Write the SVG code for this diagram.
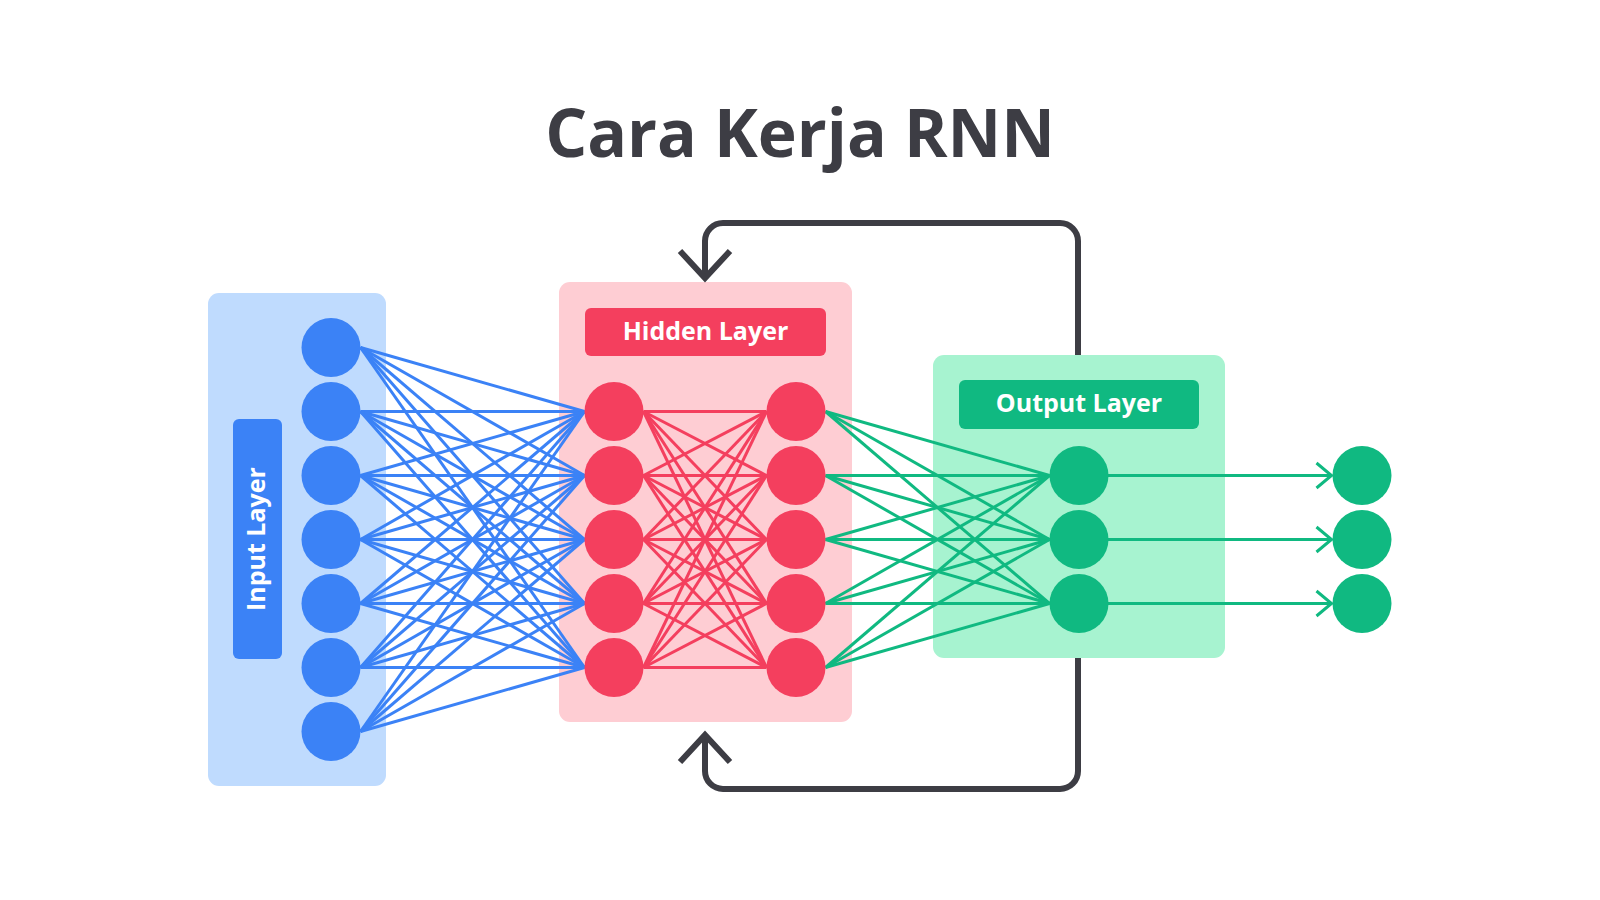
<svg xmlns="http://www.w3.org/2000/svg" width="1600" height="900" viewBox="0 0 1600 900">
<style>
.title{font-family:"Open Sans","Noto Sans","Liberation Sans",sans-serif;font-weight:700;font-size:66px;fill:#3d3d44}
.lbl{font-family:"Open Sans","Noto Sans","Liberation Sans",sans-serif;font-weight:700;font-size:25px;fill:#ffffff}
.b line{stroke:#3b82f6;stroke-width:3}
.r line{stroke:#f43f5e;stroke-width:3}
.g line{stroke:#10b981;stroke-width:3}
.loop{fill:none;stroke:#3d3d44;stroke-width:6;stroke-linejoin:miter}
.arr{fill:none;stroke:#10b981;stroke-width:3}
.nb{fill:#3b82f6}.nr{fill:#f43f5e}.ng{fill:#10b981}
</style>
<rect width="1600" height="900" fill="#ffffff"/>
<text class="title" x="800" y="157" text-anchor="middle">Cara Kerja RNN</text>

<g id="panels">
<rect id="input-panel" x="208" y="293" width="178" height="493" rx="11" fill="#bfdbfe"/>
<rect id="hidden-panel" x="559" y="282" width="293" height="440" rx="11" fill="#fecdd3"/>
<rect id="output-panel" x="933" y="355" width="292" height="303" rx="11" fill="#a7f3d0"/>
</g>

<g id="loop">
<path class="loop" d="M1078,355 V241 A18,18 0 0 0 1060,223 H723 A18,18 0 0 0 705,241 V278"/>
<path class="loop" d="M680,251 L705,278 L730,251"/>
<path class="loop" d="M1078,658 V771 A18,18 0 0 1 1060,789 H723 A18,18 0 0 1 705,771 V735"/>
<path class="loop" d="M680,762 L705,735 L730,762"/>
</g>

<g id="connectors">
<g class="b">
<line x1="360.5" y1="347.5" x2="584.5" y2="411.5"/><line x1="360.5" y1="347.5" x2="584.5" y2="475.5"/><line x1="360.5" y1="347.5" x2="584.5" y2="539.5"/><line x1="360.5" y1="347.5" x2="584.5" y2="603.5"/><line x1="360.5" y1="347.5" x2="584.5" y2="667.5"/>
<line x1="360.5" y1="411.5" x2="584.5" y2="411.5"/><line x1="360.5" y1="411.5" x2="584.5" y2="475.5"/><line x1="360.5" y1="411.5" x2="584.5" y2="539.5"/><line x1="360.5" y1="411.5" x2="584.5" y2="603.5"/><line x1="360.5" y1="411.5" x2="584.5" y2="667.5"/>
<line x1="360.5" y1="475.5" x2="584.5" y2="411.5"/><line x1="360.5" y1="475.5" x2="584.5" y2="475.5"/><line x1="360.5" y1="475.5" x2="584.5" y2="539.5"/><line x1="360.5" y1="475.5" x2="584.5" y2="603.5"/><line x1="360.5" y1="475.5" x2="584.5" y2="667.5"/>
<line x1="360.5" y1="539.5" x2="584.5" y2="411.5"/><line x1="360.5" y1="539.5" x2="584.5" y2="475.5"/><line x1="360.5" y1="539.5" x2="584.5" y2="539.5"/><line x1="360.5" y1="539.5" x2="584.5" y2="603.5"/><line x1="360.5" y1="539.5" x2="584.5" y2="667.5"/>
<line x1="360.5" y1="603.5" x2="584.5" y2="411.5"/><line x1="360.5" y1="603.5" x2="584.5" y2="475.5"/><line x1="360.5" y1="603.5" x2="584.5" y2="539.5"/><line x1="360.5" y1="603.5" x2="584.5" y2="603.5"/><line x1="360.5" y1="603.5" x2="584.5" y2="667.5"/>
<line x1="360.5" y1="667.5" x2="584.5" y2="411.5"/><line x1="360.5" y1="667.5" x2="584.5" y2="475.5"/><line x1="360.5" y1="667.5" x2="584.5" y2="539.5"/><line x1="360.5" y1="667.5" x2="584.5" y2="603.5"/><line x1="360.5" y1="667.5" x2="584.5" y2="667.5"/>
<line x1="360.5" y1="731.5" x2="584.5" y2="411.5"/><line x1="360.5" y1="731.5" x2="584.5" y2="475.5"/><line x1="360.5" y1="731.5" x2="584.5" y2="539.5"/><line x1="360.5" y1="731.5" x2="584.5" y2="603.5"/><line x1="360.5" y1="731.5" x2="584.5" y2="667.5"/>
</g>
<g class="r">
<line x1="643.5" y1="411.5" x2="766.5" y2="411.5"/><line x1="643.5" y1="411.5" x2="766.5" y2="475.5"/><line x1="643.5" y1="411.5" x2="766.5" y2="539.5"/><line x1="643.5" y1="411.5" x2="766.5" y2="603.5"/><line x1="643.5" y1="411.5" x2="766.5" y2="667.5"/>
<line x1="643.5" y1="475.5" x2="766.5" y2="411.5"/><line x1="643.5" y1="475.5" x2="766.5" y2="475.5"/><line x1="643.5" y1="475.5" x2="766.5" y2="539.5"/><line x1="643.5" y1="475.5" x2="766.5" y2="603.5"/><line x1="643.5" y1="475.5" x2="766.5" y2="667.5"/>
<line x1="643.5" y1="539.5" x2="766.5" y2="411.5"/><line x1="643.5" y1="539.5" x2="766.5" y2="475.5"/><line x1="643.5" y1="539.5" x2="766.5" y2="539.5"/><line x1="643.5" y1="539.5" x2="766.5" y2="603.5"/><line x1="643.5" y1="539.5" x2="766.5" y2="667.5"/>
<line x1="643.5" y1="603.5" x2="766.5" y2="411.5"/><line x1="643.5" y1="603.5" x2="766.5" y2="475.5"/><line x1="643.5" y1="603.5" x2="766.5" y2="539.5"/><line x1="643.5" y1="603.5" x2="766.5" y2="603.5"/><line x1="643.5" y1="603.5" x2="766.5" y2="667.5"/>
<line x1="643.5" y1="667.5" x2="766.5" y2="411.5"/><line x1="643.5" y1="667.5" x2="766.5" y2="475.5"/><line x1="643.5" y1="667.5" x2="766.5" y2="539.5"/><line x1="643.5" y1="667.5" x2="766.5" y2="603.5"/><line x1="643.5" y1="667.5" x2="766.5" y2="667.5"/>
</g>
<g class="g">
<line x1="825.5" y1="411.5" x2="1049.5" y2="475.5"/><line x1="825.5" y1="411.5" x2="1049.5" y2="539.5"/><line x1="825.5" y1="411.5" x2="1049.5" y2="603.5"/>
<line x1="825.5" y1="475.5" x2="1049.5" y2="475.5"/><line x1="825.5" y1="475.5" x2="1049.5" y2="539.5"/><line x1="825.5" y1="475.5" x2="1049.5" y2="603.5"/>
<line x1="825.5" y1="539.5" x2="1049.5" y2="475.5"/><line x1="825.5" y1="539.5" x2="1049.5" y2="539.5"/><line x1="825.5" y1="539.5" x2="1049.5" y2="603.5"/>
<line x1="825.5" y1="603.5" x2="1049.5" y2="475.5"/><line x1="825.5" y1="603.5" x2="1049.5" y2="539.5"/><line x1="825.5" y1="603.5" x2="1049.5" y2="603.5"/>
<line x1="825.5" y1="667.5" x2="1049.5" y2="475.5"/><line x1="825.5" y1="667.5" x2="1049.5" y2="539.5"/><line x1="825.5" y1="667.5" x2="1049.5" y2="603.5"/>
<line x1="1108" y1="475.5" x2="1331" y2="475.5"/><line x1="1108" y1="539.5" x2="1331" y2="539.5"/><line x1="1108" y1="603.5" x2="1331" y2="603.5"/>
</g>
<path class="arr" d="M1316.5,463 L1331.5,475.5 L1316.5,488 M1316.5,527 L1331.5,539.5 L1316.5,552 M1316.5,591 L1331.5,603.5 L1316.5,616"/>
</g>

<g id="input-layer">
<rect x="233" y="419" width="49" height="240" rx="6" fill="#3b82f6"/>
<text class="lbl" transform="translate(265,539) rotate(-90)" text-anchor="middle">Input Layer</text>
<circle class="nb" cx="331" cy="347.5" r="29.5"/>
<circle class="nb" cx="331" cy="411.5" r="29.5"/>
<circle class="nb" cx="331" cy="475.5" r="29.5"/>
<circle class="nb" cx="331" cy="539.5" r="29.5"/>
<circle class="nb" cx="331" cy="603.5" r="29.5"/>
<circle class="nb" cx="331" cy="667.5" r="29.5"/>
<circle class="nb" cx="331" cy="731.5" r="29.5"/>
</g>

<g id="hidden-layer">
<rect x="585" y="308" width="241" height="48" rx="6" fill="#f43f5e"/>
<text class="lbl" x="705.5" y="339.5" text-anchor="middle">Hidden Layer</text>
<circle class="nr" cx="614" cy="411.5" r="29.5"/>
<circle class="nr" cx="614" cy="475.5" r="29.5"/>
<circle class="nr" cx="614" cy="539.5" r="29.5"/>
<circle class="nr" cx="614" cy="603.5" r="29.5"/>
<circle class="nr" cx="614" cy="667.5" r="29.5"/>
<circle class="nr" cx="796" cy="411.5" r="29.5"/>
<circle class="nr" cx="796" cy="475.5" r="29.5"/>
<circle class="nr" cx="796" cy="539.5" r="29.5"/>
<circle class="nr" cx="796" cy="603.5" r="29.5"/>
<circle class="nr" cx="796" cy="667.5" r="29.5"/>
</g>

<g id="output-layer">
<rect x="959" y="380" width="240" height="49" rx="6" fill="#10b981"/>
<text class="lbl" x="1079" y="411.5" text-anchor="middle">Output Layer</text>
<circle class="ng" cx="1079" cy="475.5" r="29.5"/>
<circle class="ng" cx="1079" cy="539.5" r="29.5"/>
<circle class="ng" cx="1079" cy="603.5" r="29.5"/>
</g>

<g id="outputs">
<circle class="ng" cx="1362" cy="475.5" r="29.5"/>
<circle class="ng" cx="1362" cy="539.5" r="29.5"/>
<circle class="ng" cx="1362" cy="603.5" r="29.5"/>
</g>
</svg>
